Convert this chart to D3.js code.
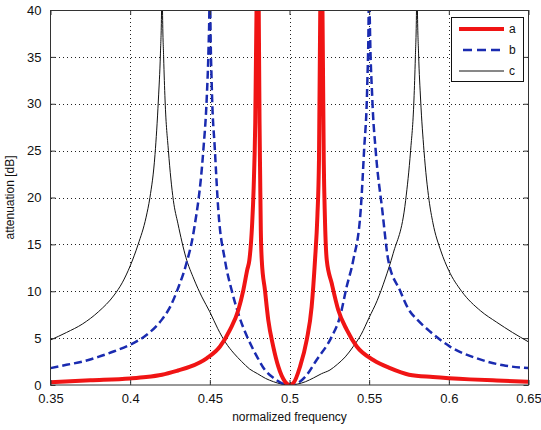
<!DOCTYPE html>
<html><head><meta charset="utf-8">
<script src="https://cdn.jsdelivr.net/npm/d3@7"></script>
<style>body{margin:0;background:#fff}svg{display:block}text{font-family:"Liberation Sans",Arial,sans-serif}</style>
</head><body><svg id="c" width="541" height="430"></svg>
<script>
const xTicks = [0.35, 0.4, 0.45, 0.5, 0.55, 0.6, 0.65];
const xTickLabels = ["0.35", "0.4", "0.45", "0.5", "0.55", "0.6", "0.65"];
const yTicks = [0, 5, 10, 15, 20, 25, 30, 35, 40];
const seriesNames = ["a", "b", "c"];

const aFreq = [0.35,0.375,0.4,0.41,0.42,0.43,0.4376,0.448,0.4564,0.4627,0.4679,0.471,0.4735,0.4748,0.4765,0.4775,0.4785,0.4793,0.48,0.4807,0.4812,0.4816,0.482,0.4826,0.4846,0.4867,0.4898,0.493,0.4972,0.5,0.5024,0.5066,0.5108,0.5139,0.516,0.5175,0.5185,0.5193,0.52,0.5207,0.5215,0.5222,0.5234,0.5265,0.5306,0.5359,0.5422,0.5526,0.5631,0.575,0.59,0.6133,0.63,0.65];
const aAtt  = [0.3,0.5,0.7,0.85,1.1,1.55,1.95,2.85,4.1,5.9,8,10.1,12.3,13.3,17,21,28,40,60,40,28,22,16.5,13.3,10.1,6.9,4.1,1.95,0.35,0,0.2,1.95,4.8,8.35,13.3,18,24,40,60,40,24,18,13.3,10.85,8,5.9,4.1,2.67,1.8,1.1,0.85,0.6,0.48,0.35];

const bFreq = [0.35,0.36,0.37,0.38,0.39,0.4,0.41,0.42,0.425,0.43,0.435,0.44,0.4459,0.448,0.4492,0.4497,0.45,0.4503,0.4512,0.4532,0.4553,0.4595,0.4637,0.4689,0.4763,0.48,0.4846,0.49,0.495,0.5,0.505,0.51,0.5171,0.5265,0.5317,0.5359,0.54,0.5447,0.5468,0.5488,0.5497,0.55,0.5503,0.552,0.5541,0.5582,0.562,0.5693,0.575,0.58,0.5882,0.6007,0.6175,0.6342,0.65];
const bAtt  = [1.8,2.15,2.5,3.0,3.6,4.3,5.3,7.0,8.3,10.3,12.8,16.5,25,30.4,36,40,60,40,32,25,18.7,13.3,10.1,7.1,4.1,2.9,1.6,0.75,0.2,0,0.2,0.9,2.7,5.15,7.3,10.5,13.3,18.7,25,32,40,60,40,30.4,25,18.7,13.3,10.1,8.0,7.0,5.7,4.1,2.85,2.1,1.8];

const cFreq = [0.35,0.36,0.37,0.38,0.39,0.395,0.4,0.405,0.41,0.4124,0.4156,0.4177,0.419,0.4197,0.42,0.4203,0.421,0.4219,0.424,0.4271,0.43,0.435,0.44,0.445,0.45,0.455,0.46,0.465,0.47,0.475,0.48,0.485,0.49,0.495,0.5,0.505,0.51,0.515,0.52,0.5254,0.53,0.535,0.54,0.545,0.55,0.555,0.56,0.565,0.5729,0.576,0.5781,0.579,0.5797,0.58,0.5803,0.581,0.5823,0.5844,0.5876,0.59,0.595,0.6,0.608,0.62,0.63,0.64,0.65];
const cAtt  = [4.8,5.6,6.5,7.8,9.6,10.9,12.7,15.0,17.9,20.0,24.6,30.4,35.4,40,60,40,35,30.4,25,19.7,17.2,13.6,11.3,9.4,7.8,6.0,4.5,3.4,2.5,1.7,1.2,0.7,0.35,0.1,0,0.1,0.35,0.75,1.2,1.6,2.2,3.0,4.1,5.4,7.2,9.0,11.3,14.0,19.7,25,30.4,35,40,60,40,35.4,30.4,25,19.7,17.3,14.3,12.2,10,7.9,6.7,5.6,4.6];

const svg = d3.select("#c");
const L = 50.5, T = 10, R = 528.5, B = 385;
const x = d3.scaleLinear().domain([0.35, 0.65]).range([L, R]);
const y = d3.scaleLinear().domain([0, 40]).range([B, T]);

svg.append("defs").append("clipPath").attr("id","clip")
  .append("rect").attr("x", L).attr("y", T).attr("width", R - L).attr("height", B - T);

svg.append("rect").attr("x", L).attr("y", T).attr("width", R - L).attr("height", B - T).attr("fill", "#fff");

// grid
const grid = svg.append("g").attr("stroke", "#222").attr("stroke-width", 1).attr("stroke-dasharray", "1,3").attr("shape-rendering","crispEdges");
xTicks.slice(1, -1).forEach(t => grid.append("line").attr("x1", Math.round(x(t)) + 0.5).attr("x2", Math.round(x(t)) + 0.5).attr("y1", T).attr("y2", B));
yTicks.slice(1, -1).forEach(t => grid.append("line").attr("y1", Math.round(y(t)) + 0.5).attr("y2", Math.round(y(t)) + 0.5).attr("x1", L).attr("x2", R));

// curves
const plot = svg.append("g").attr("clip-path", "url(#clip)");
const line = d3.line().x(d => x(d[0])).y(d => y(d[1])).curve(d3.curveMonotoneX);
const zip = (f, v) => f.map((d, i) => [d, v[i]]);
plot.append("path").datum(zip(cFreq, cAtt)).attr("d", line).attr("fill", "none").attr("stroke", "#111").attr("stroke-width", 1);
plot.append("path").datum(zip(bFreq, bAtt)).attr("d", line).attr("fill", "none").attr("stroke", "#1a2bb0").attr("stroke-width", 2.5).attr("stroke-dasharray", "8,4");
plot.append("path").datum(zip(aFreq, aAtt)).attr("d", line).attr("fill", "none").attr("stroke", "#f01414").attr("stroke-width", 4);

// axes (ticks inward, all four sides)
const tickLen = 5;
const ax = svg.append("g");
ax.append("g").attr("transform", `translate(0,${B})`)
  .call(d3.axisBottom(x).tickValues(xTicks).tickFormat((d, i) => xTickLabels[i]).tickSizeInner(-tickLen).tickSizeOuter(0).tickPadding(9));
ax.append("g").attr("transform", `translate(0,${T})`)
  .call(d3.axisTop(x).tickValues(xTicks).tickFormat("").tickSizeInner(-tickLen).tickSizeOuter(0));
ax.append("g").attr("transform", `translate(${L},0)`)
  .call(d3.axisLeft(y).tickValues(yTicks).tickSizeInner(-tickLen).tickSizeOuter(0).tickPadding(9));
ax.append("g").attr("transform", `translate(${R},0)`)
  .call(d3.axisRight(y).tickValues(yTicks).tickFormat("").tickSizeInner(-tickLen).tickSizeOuter(0));
ax.selectAll(".domain").remove();
ax.selectAll("line").attr("stroke", "#333");
ax.selectAll("text").attr("font-size", 13).attr("fill", "#111").attr("font-family", "Liberation Sans, Arial, sans-serif");
svg.append("rect").attr("x", L).attr("y", T + 0.5).attr("width", R - L).attr("height", B - T - 0.5)
  .attr("fill", "none").attr("stroke", "#333").attr("stroke-width", 1);

// axis labels
svg.append("text").attr("x", (L + R) / 2).attr("y", 421).attr("text-anchor", "middle").attr("font-size", 12).attr("fill", "#111").text("normalized frequency");
svg.append("text").attr("transform", `translate(14,${(T + B) / 2}) rotate(-90)`).attr("text-anchor", "middle").attr("font-size", 12).attr("fill", "#111").text("attenuation [dB]");

// legend
const lg = svg.append("g");
lg.append("rect").attr("x", 451.5).attr("y", 17.5).attr("width", 72).attr("height", 64).attr("fill", "#fff").attr("stroke", "#111");
const legStyles = [
  {stroke: "#f01414", w: 4, dash: null},
  {stroke: "#1a2bb0", w: 2.5, dash: "9,5"},
  {stroke: "#111", w: 1, dash: null}
];
seriesNames.forEach((s, i) => {
  const yy = 29 + i * 21;
  const st = legStyles[i];
  const l = lg.append("line").attr("x1", i === 1 ? 463 : 459).attr("x2", 504).attr("y1", yy).attr("y2", yy).attr("stroke", st.stroke).attr("stroke-width", st.w);
  if (st.dash) l.attr("stroke-dasharray", st.dash);
  lg.append("text").attr("x", 509).attr("y", yy + 4).attr("font-size", 12).attr("fill", "#111").text(s);
});
</script></body></html>
